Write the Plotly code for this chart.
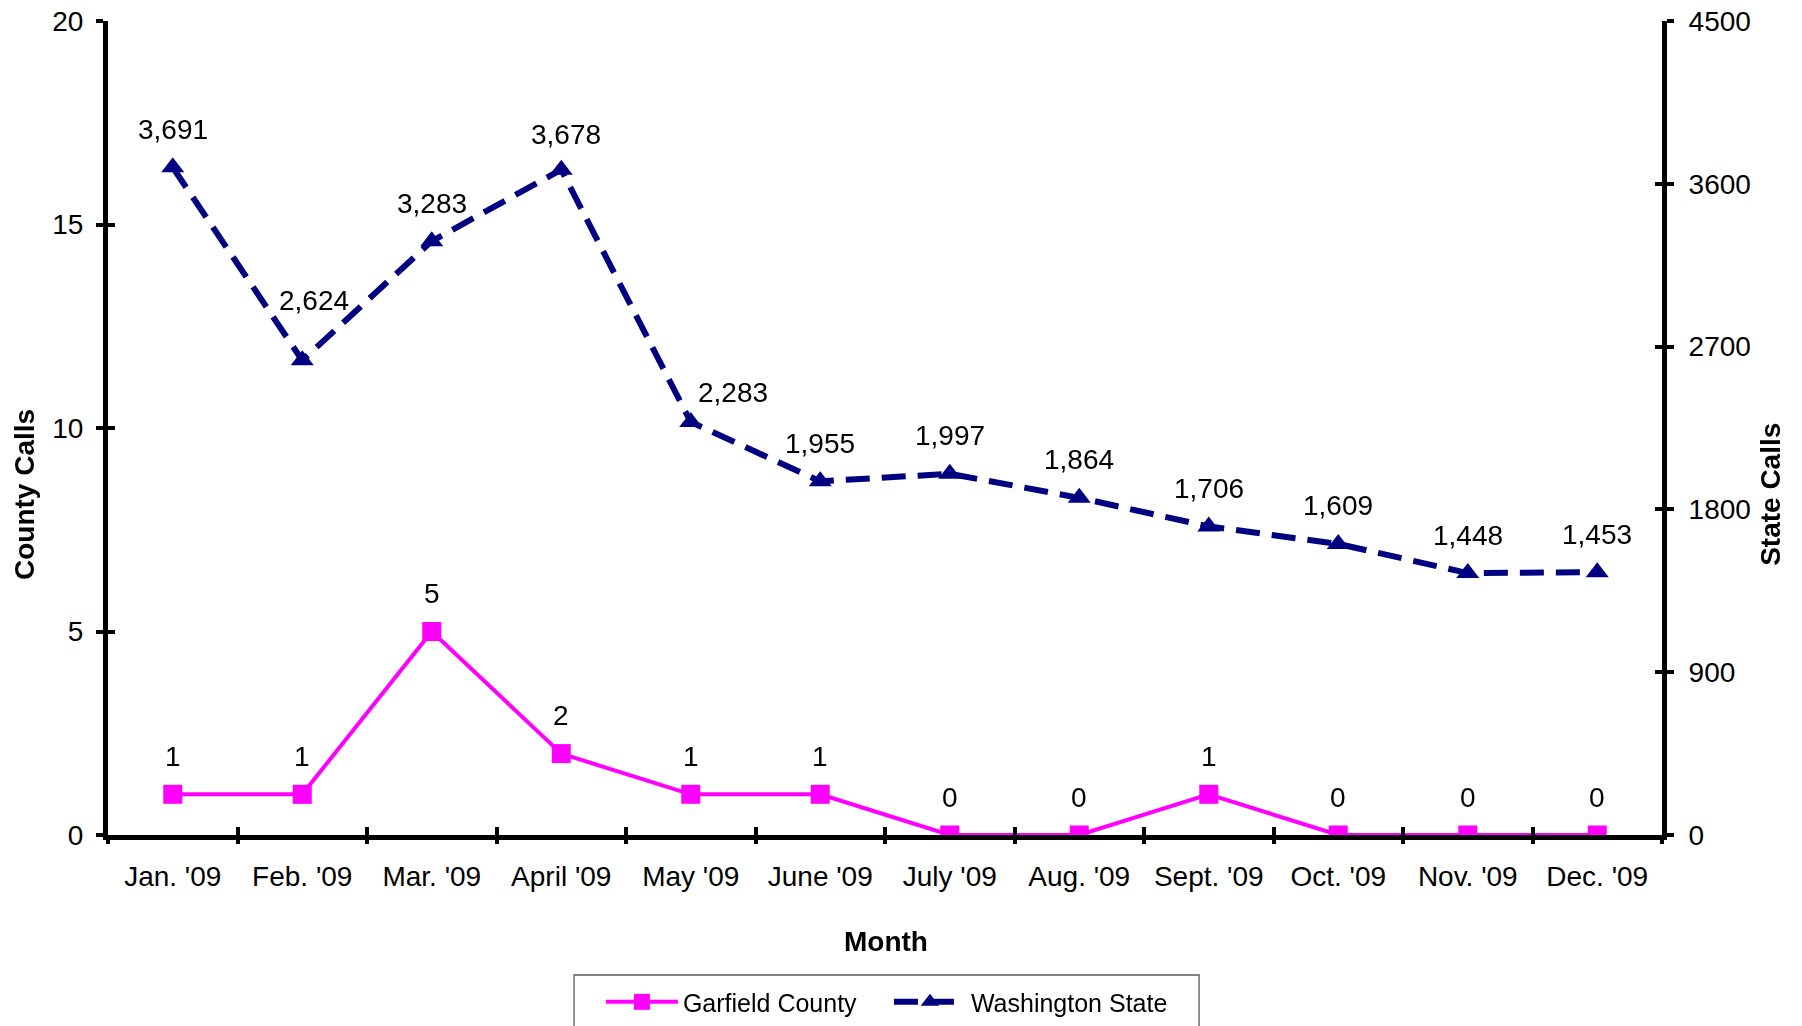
import plotly.graph_objects as go

months = ["Jan. '09", "Feb. '09", "Mar. '09", "April '09", "May '09", "June '09",
          "July '09", "Aug. '09", "Sept. '09", "Oct. '09", "Nov. '09", "Dec. '09"]
garfield = [1, 1, 5, 2, 1, 1, 0, 0, 1, 0, 0, 0]
washington = [3691, 2624, 3283, 3678, 2283, 1955, 1997, 1864, 1706, 1609, 1448, 1453]

county_ticks = [0, 5, 10, 15, 20]
state_ticks = [0, 900, 1800, 2700, 3600, 4500]

FONT = "Liberation Sans, Arial, sans-serif"
FS = 28
MAGENTA = "#FF00FF"
NAVY = "#000080"

idx = list(range(len(months)))
bounds = [i - 0.5 for i in range(len(months) + 1)]

# label nudges (pixels) for individual data labels
nudge = {("wa", 1): (12, 60), ("wa", 4): (42, 30), ("wa", 3): (5, 35)}

fig = go.Figure()
fig.add_trace(go.Scatter(x=idx, y=garfield, name="Garfield County", mode="lines+markers",
                         line=dict(color=MAGENTA, width=4),
                         marker=dict(symbol="square", size=19, color=MAGENTA),
                         xaxis="x", yaxis="y", hoverinfo="skip"))
fig.add_trace(go.Scatter(x=idx, y=washington, name="Washington State", mode="lines+markers",
                         line=dict(color=NAVY, width=6, dash="24px,12px"),
                         marker=dict(symbol="triangle-up", size=20, color=NAVY),
                         xaxis="x", yaxis="y2", hoverinfo="skip"))
# invisible carriers for the crossing-tick overlay axes
fig.add_trace(go.Scatter(x=idx, y=garfield, mode="markers", opacity=0, showlegend=False,
                         xaxis="x2", yaxis="y3", hoverinfo="skip"))
fig.add_trace(go.Scatter(x=idx, y=washington, mode="markers", opacity=0, showlegend=False,
                         xaxis="x3", yaxis="y4", hoverinfo="skip"))

ann = []
for i, v in enumerate(garfield):
    dx, dy = nudge.get(("ga", i), (0, 38))
    ann.append(dict(x=i, y=v, xref="x", yref="y", text=str(v), showarrow=False,
                    xshift=dx, yshift=dy, font=dict(size=FS, color="black", family=FONT)))
for i, v in enumerate(washington):
    dx, dy = nudge.get(("wa", i), (0, 38))
    ann.append(dict(x=i, y=v, xref="x", yref="y2", text=f"{v:,}", showarrow=False,
                    xshift=dx, yshift=dy, font=dict(size=FS, color="black", family=FONT)))

# axis titles
ann.append(dict(x=0.5006, y=-0.1314, xref="paper", yref="paper", text="<b>Month</b>",
                xanchor="center", yanchor="middle",
                showarrow=False, font=dict(size=FS, color="black", family=FONT)))
ann.append(dict(x=-0.0534, y=0.4177, xref="paper", yref="paper", text="<b>County Calls</b>",
                xanchor="center", yanchor="middle",
                textangle=-90, showarrow=False, font=dict(size=FS, color="black", family=FONT)))
ann.append(dict(x=1.0701, y=0.419, xref="paper", yref="paper", text="<b>State Calls</b>",
                xanchor="center", yanchor="middle",
                textangle=-90, showarrow=False, font=dict(size=FS, color="black", family=FONT)))

common_x = dict(range=[-0.5, len(months) - 0.5], showgrid=False, zeroline=False,
                fixedrange=True, automargin=False)
common_tick = dict(tickcolor="black", tickwidth=4)

fig.update_layout(
    width=1802, height=1026,
    margin=dict(l=108, r=140, t=21, b=191, pad=0, autoexpand=False),
    paper_bgcolor="white", plot_bgcolor="white",
    font=dict(family=FONT, size=FS, color="black"),
    xaxis=dict(**common_x, tickmode="array", tickvals=idx, ticktext=months, ticks="",
               showline=True, linecolor="black", linewidth=5, anchor="y",
               tickfont=dict(size=FS), ticklabelstandoff=12),
    xaxis2=dict(**common_x, overlaying="x", anchor="y", side="bottom", tickmode="array",
                tickvals=bounds, ticks="outside", ticklen=8, showticklabels=False,
                showline=False, **common_tick),
    xaxis3=dict(**common_x, overlaying="x", anchor="y", side="bottom", tickmode="array",
                tickvals=bounds, ticks="inside", ticklen=8, showticklabels=False,
                showline=False, **common_tick),
    yaxis=dict(range=[0, 20], tickmode="array", tickvals=county_ticks, ticks="outside", ticklen=7,
               showline=True, linecolor="black", linewidth=5, showgrid=False, zeroline=False,
               anchor="x", side="left", tickfont=dict(size=FS), ticklabelstandoff=7,
               automargin=False, fixedrange=True, **common_tick),
    yaxis3=dict(range=[0, 20], tickmode="array", tickvals=county_ticks, ticks="inside", ticklen=7,
                showticklabels=False, showline=False, showgrid=False, zeroline=False,
                overlaying="y", anchor="x", side="left", automargin=False, fixedrange=True,
                **common_tick),
    yaxis2=dict(range=[0, 4500], tickmode="array", tickvals=state_ticks, ticks="outside", ticklen=7,
                showline=True, linecolor="black", linewidth=5, showgrid=False, zeroline=False,
                overlaying="y", anchor="x", side="right", tickfont=dict(size=FS),
                ticklabelstandoff=9, automargin=False, fixedrange=True, **common_tick),
    yaxis4=dict(range=[0, 4500], tickmode="array", tickvals=state_ticks, ticks="inside", ticklen=7,
                showticklabels=False, showline=False, showgrid=False, zeroline=False,
                overlaying="y", anchor="x", side="right", automargin=False, fixedrange=True,
                **common_tick),
    showlegend=True,
    legend=dict(orientation="h", x=0.3172, xanchor="left", y=-0.177, yanchor="top",
                borderwidth=0, bgcolor="rgba(0,0,0,0)",
                font=dict(family=FONT, size=25),
                entrywidth=201, entrywidthmode="pixels", itemwidth=72),
    shapes=[dict(type="rect", xref="paper", yref="paper", x0=0.2999, x1=0.7021,
                 y0=-0.172, y1=-0.2457, line=dict(color="#595959", width=1.3),
                 fillcolor="rgba(0,0,0,0)", layer="below")],
    annotations=ann,
    hovermode=False,
)

fig.write_html("out.html", config={"displayModeBar": False, "staticPlot": True},
               post_script="document.body.style.margin='0';")
